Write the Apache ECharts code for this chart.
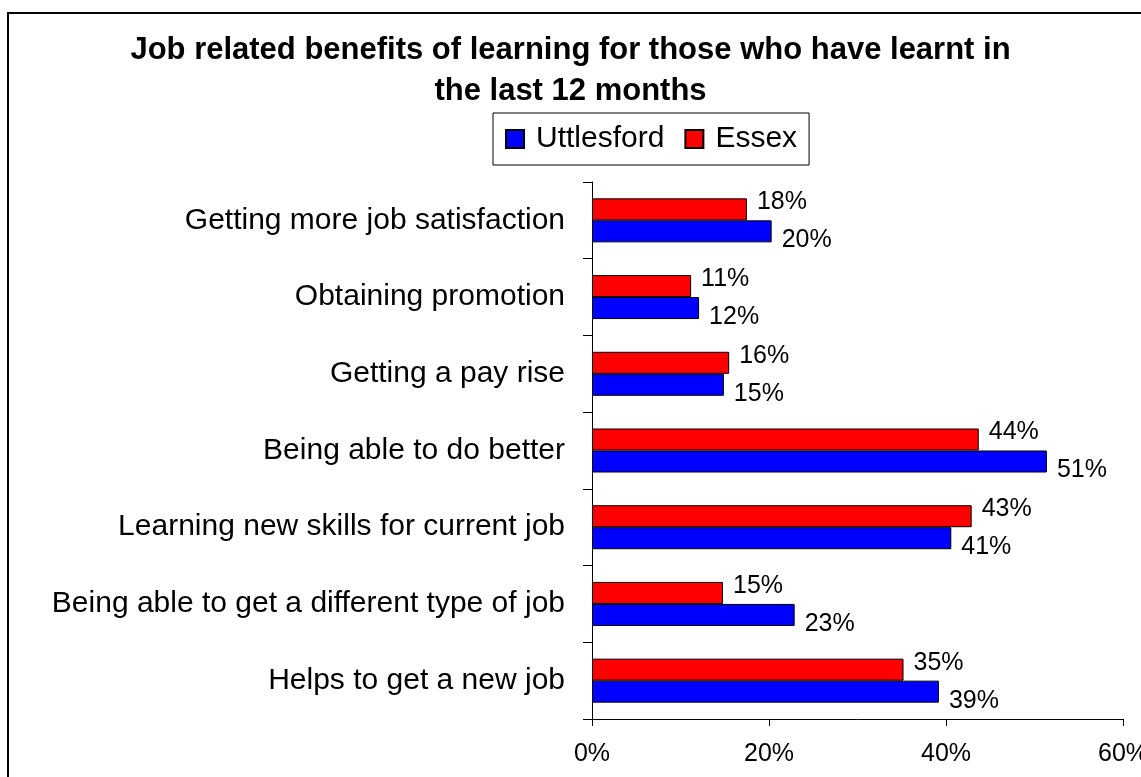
<!DOCTYPE html>
<html>
<head>
<meta charset="utf-8">
<script src="https://cdn.jsdelivr.net/npm/echarts@6/dist/echarts.min.js"></script>
<style>
html,body{margin:0;padding:0;background:#fff;overflow:hidden;}
#chart{width:1141px;height:777px;}
</style>
</head>
<body>
<div id="chart"></div>
<script>
// Categories listed bottom to top (as drawn on the category axis)
var categories = [
  'Helps to get a new job',
  'Being able to get a different type of job',
  'Learning new skills for current job',
  'Being able to do better',
  'Getting a pay rise',
  'Obtaining promotion',
  'Getting more job satisfaction'
];
var uttlesford = [39.2, 22.9, 40.6, 51.4, 14.9, 12.1, 20.3];
var essex      = [35.2, 14.8, 42.9, 43.7, 15.5, 11.2, 17.5];
var xTicks = [0, 20, 40, 60];

var FONT = "'Liberation Sans', Arial, sans-serif";
var chart = echarts.init(document.getElementById('chart'), null, {renderer: 'canvas'});

function pct(p) { return Math.round(p.value) + '%'; }

chart.setOption({
  animation: false,
  backgroundColor: '#fff',
  textStyle: {fontFamily: FONT},
  graphic: [{
    type: 'rect',
    shape: {x: 8, y: 13, width: 2000, height: 2000},
    style: {fill: 'none', stroke: '#000', lineWidth: 2},
    silent: true
  }],
  title: {
    text: 'Job related benefits of learning for those who have learnt in\nthe last 12 months',
    left: 'center',
    top: 30,
    padding: [0, 0, 0, 9],
    textStyle: {fontFamily: FONT, fontSize: 31, fontWeight: 'bold', color: '#000', lineHeight: 41}
  },
  legend: {
    data: ['Uttlesford', 'Essex'],
    left: 493,
    top: 113,
    padding: [11, 12, 11, 12],
    itemWidth: 18,
    itemHeight: 18,
    itemGap: 20,
    borderColor: '#000',
    borderWidth: 1,
    icon: 'rect',
    textStyle: {fontFamily: FONT, fontSize: 30, color: '#000', padding: [0, 0, 0, 7]}
  },
  grid: {left: 592, right: 18, top: 182, bottom: 58, containLabel: false, outerBoundsMode: 'none'},
  xAxis: {
    type: 'value',
    min: 0, max: 60, interval: 20,
    axisLine: {show: true, lineStyle: {color: '#000', width: 1}},
    axisTick: {show: true, length: 7, lineStyle: {color: '#000'}},
    splitLine: {show: false},
    axisLabel: {
      fontFamily: FONT, fontSize: 25, color: '#000', margin: 23,
      formatter: function (v) { return xTicks.indexOf(v) >= 0 ? v + '%' : ''; }
    }
  },
  yAxis: {
    type: 'category',
    data: categories,
    axisLine: {show: true, lineStyle: {color: '#000', width: 1}},
    axisTick: {show: true, length: 9, lineStyle: {color: '#000'}},
    axisLabel: {fontFamily: FONT, fontSize: 30, color: '#000', margin: 27}
  },
  series: [
    {
      name: 'Essex',
      type: 'bar',
      data: essex,
      barWidth: 22,
      barGap: '0%',
      itemStyle: {color: '#ff0000', borderColor: '#000', borderWidth: 1},
      label: {show: true, position: 'right', distance: 10, offset: [0, -7],
        fontFamily: FONT, fontSize: 25, color: '#000', formatter: pct}
    },
    {
      name: 'Uttlesford',
      type: 'bar',
      data: uttlesford,
      barWidth: 22,
      barGap: '0%',
      itemStyle: {color: '#0000ff', borderColor: '#000', borderWidth: 1},
      label: {show: true, position: 'right', distance: 10, offset: [0, 9],
        fontFamily: FONT, fontSize: 25, color: '#000', formatter: pct}
    }
  ]
});
</script>
</body>
</html>
